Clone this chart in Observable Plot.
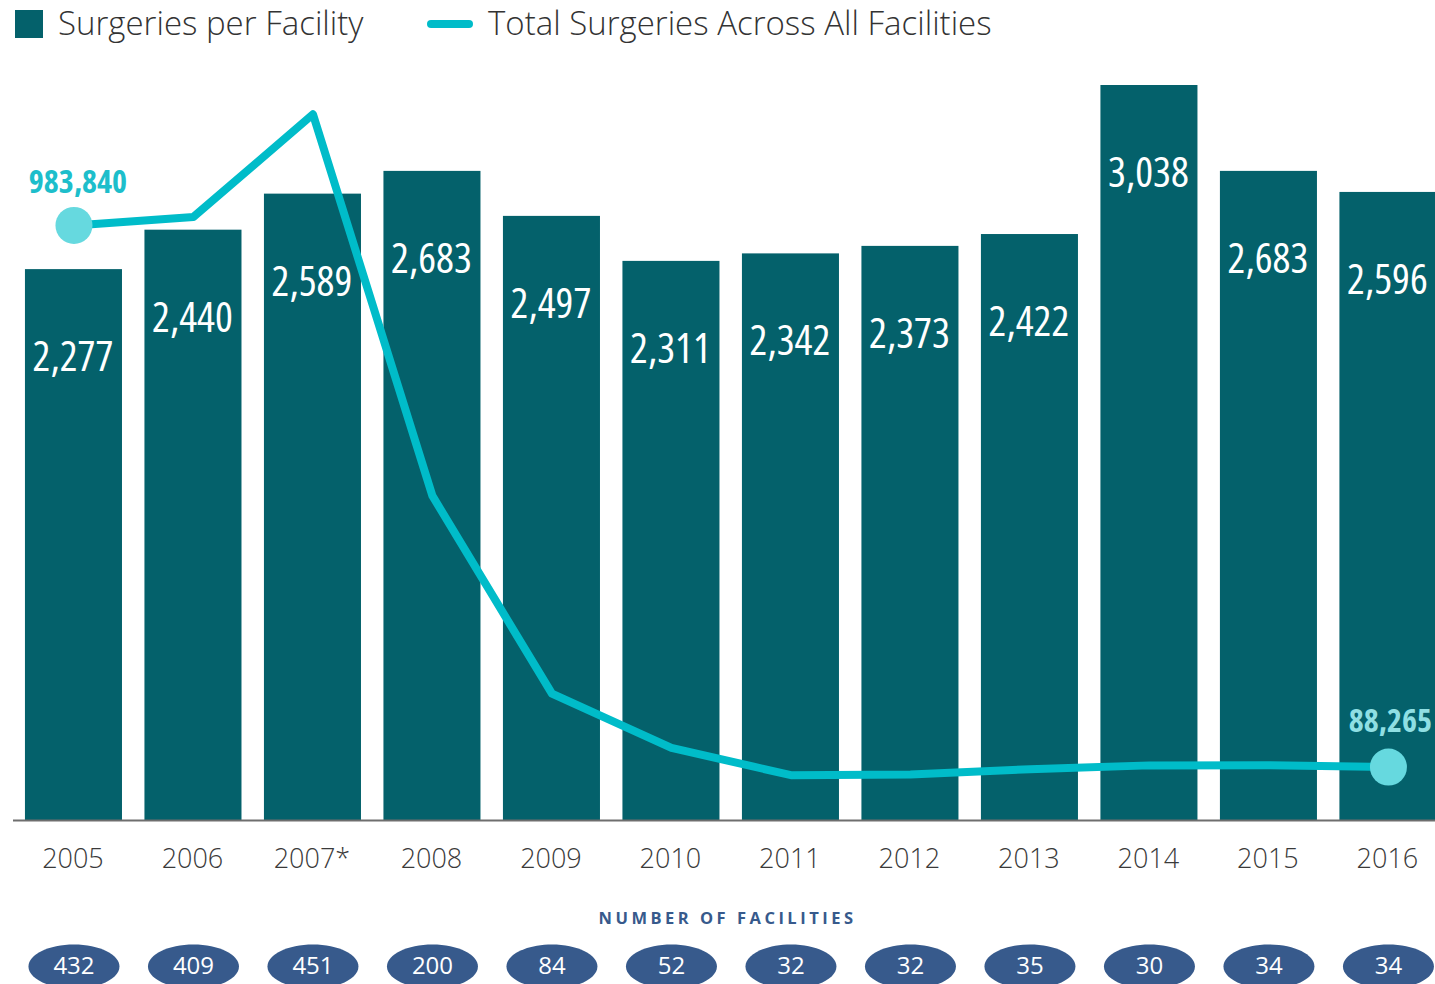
<!DOCTYPE html>
<html>
<head>
<meta charset="utf-8">
<script src="https://cdn.jsdelivr.net/npm/d3@7"></script>
<script src="https://cdn.jsdelivr.net/npm/@observablehq/plot@0.6"></script>
<style>
  html, body { margin: 0; padding: 0; background: #fff; overflow: hidden; width: 1435px; height: 984px; }
  #legend { position: relative; height: 50px; font-family: "Open Sans", sans-serif; font-weight: 300; color: #333; }
  #legend .label { position: absolute; top: 6px; font-size: 33px; line-height: 34px; white-space: nowrap; }
  text[aria-label="facilities title"] { letter-spacing: 3.5px; }
  text[aria-label="cond"] { font-family: "Open Sans", sans-serif; font-stretch: 75%; }
</style>
</head>
<body>
<div id="legend"></div>
<div id="chart"></div>
<script>
// ---- data ----
const years = ["2005", "2006", "2007*", "2008", "2009", "2010", "2011", "2012", "2013", "2014", "2015", "2016"];
const perFacility = [2277, 2440, 2589, 2683, 2497, 2311, 2342, 2373, 2422, 3038, 2683, 2596];
const totalSurgeries = [983840, 997960, 1167639, 536600, 209748, 120172, 74944, 75936, 84770, 91140, 91222, 88265];
const facilities = [432, 409, 451, 200, 84, 52, 32, 32, 35, 30, 34, 34];
const seriesNames = ["Surgeries per Facility", "Total Surgeries Across All Facilities"];
const facilitiesTitle = "NUMBER OF FACILITIES";

// ---- styles ----
const barColor = "#04616b";
const lineColor = "#00bcc9";
const dotColor = "#66d9df";
const navy = "#375a8c";
const cond = "'Open Sans', sans-serif";
const sans = "'Open Sans', 'Noto Sans', sans-serif";
const lineRatio = 400; // secondary (total) axis relative to bar axis

// ---- legend ----
const legend = document.getElementById("legend");
const legendLayout = [
  {swatch: `<div style="position:absolute;left:15px;top:10px;width:28px;height:28px;background:${barColor}"></div>`, textLeft: 58},
  {swatch: `<div style="position:absolute;left:427px;top:20px;width:46px;height:8px;border-radius:4px;background:${lineColor}"></div>`, textLeft: 488}
];
seriesNames.forEach((name, i) => {
  legend.insertAdjacentHTML("beforeend", legendLayout[i].swatch +
    `<span class="label" style="left:${legendLayout[i].textLeft}px">${name}</span>`);
});

// ---- chart ----
const data = years.map((year, i) => ({
  year, perFacility: perFacility[i], total: totalSurgeries[i], facilities: facilities[i]
}));
const fmt = d3.format(",");
const k = 0.5523;
const ellipse = {
  draw(ctx) {
    const a = 45.5, b = 22;
    ctx.moveTo(a, 0);
    ctx.bezierCurveTo(a, b * k, a * k, b, 0, b);
    ctx.bezierCurveTo(-a * k, b, -a, b * k, -a, 0);
    ctx.bezierCurveTo(-a, -b * k, -a * k, -b, 0, -b);
    ctx.bezierCurveTo(a * k, -b, a, -b * k, a, 0);
    ctx.closePath();
  }
};
const first = data[0], last = data[data.length - 1];

const chart = Plot.plot({
  width: 1435,
  height: 934,
  marginTop: 20,
  marginBottom: 164,
  marginLeft: 13,
  marginRight: 0,
  style: {background: "transparent", overflow: "visible"},
  x: {domain: years, range: [13, 1448.4], paddingInner: 0.188, paddingOuter: 0.1, round: false, axis: null},
  y: {domain: [0, 3100], axis: null},
  marks: [
    Plot.barY(data, {x: "year", y: "perFacility", fill: barColor}),
    Plot.ruleY([0], {stroke: "#6e6e6e", strokeWidth: 2}),
    Plot.text(data, {x: "year", y: "perFacility", text: d => fmt(d.perFacility), dy: 88, dx: -1, ariaLabel: () => "cond",
      fill: "white", fontSize: 42, fontFamily: cond}),
    Plot.line(data, {x: "year", y: d => d.total / lineRatio, stroke: lineColor, strokeWidth: 8,
      strokeLinejoin: "round", strokeLinecap: "round"}),
    Plot.dot([first, last], {x: "year", y: d => d.total / lineRatio, r: 18.5, fill: dotColor}),
    Plot.text([first], {x: "year", y: d => d.total / lineRatio, text: d => fmt(d.total), dy: -43, dx: 4, ariaLabel: () => "cond",
      fill: "#1dbecb", fontWeight: "bold", fontSize: 32, fontFamily: cond}),
    Plot.text([last], {x: "year", y: d => d.total / lineRatio, text: d => fmt(d.total), dy: -45, dx: 2, ariaLabel: () => "cond",
      fill: "#8fdfe3", fontWeight: "bold", fontSize: 32, fontFamily: cond}),
    Plot.text(data, {x: "year", frameAnchor: "bottom", lineAnchor: "middle", dy: 39, dx: -1, text: "year",
      fill: "#3a3a3a", fontSize: 27, fontWeight: 300, fontFamily: sans}),
    Plot.text([facilitiesTitle], {frameAnchor: "bottom", lineAnchor: "middle", dy: 98, dx: 3, text: d => d,
      ariaLabel: () => "facilities title", fill: navy, fontSize: 16.5, fontWeight: "bold", fontFamily: sans}),
    Plot.dot(data, {x: "year", y: () => 0, dy: 146, r: 20, symbol: ellipse, fill: navy}),
    Plot.text(data, {x: "year", y: () => 0, dy: 146, text: d => String(d.facilities),
      fill: "white", fontSize: 24, fontFamily: sans})
  ]
});
document.getElementById("chart").appendChild(chart);
</script>
</body>
</html>
